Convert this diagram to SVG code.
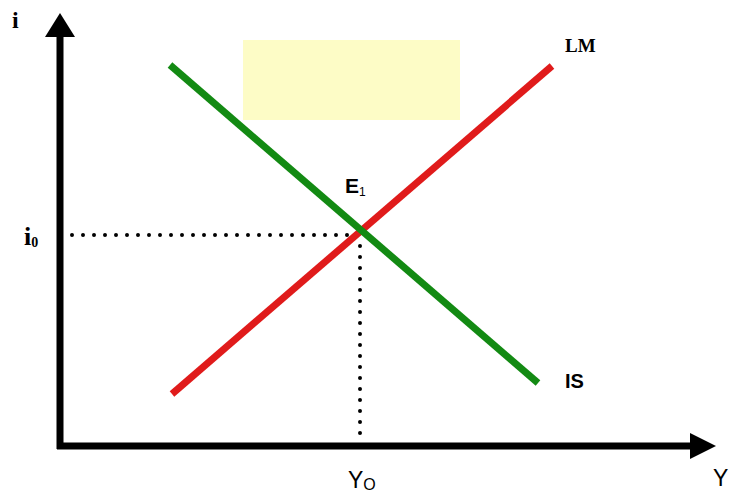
<svg xmlns="http://www.w3.org/2000/svg" width="734" height="501" viewBox="0 0 734 501">
<style>
.axis{stroke:#000;stroke-width:7;fill:none}
.dot{stroke:#000;stroke-width:4;stroke-dasharray:0 11;stroke-linecap:round;fill:none}
.sans{font-family:"Liberation Sans",Arial,sans-serif;fill:#000}
.serif{font-family:"Liberation Serif","Times New Roman",serif;font-weight:bold;fill:#000}
</style>
<rect width="734" height="501" fill="#fff"/>
<rect id="box" x="243" y="40" width="217" height="80" fill="#fdfcc6"/>
<g id="connectors">
<line class="axis" x1="60" y1="449" x2="60" y2="34"/>
<polygon points="60,13 45,37 75,37" fill="#000"/>
<line class="axis" x1="57" y1="446" x2="692" y2="446"/>
<polygon points="716,446 690,433 690,459" fill="#000"/>
<line class="dot" x1="72" y1="235" x2="358" y2="235"/>
<line class="dot" x1="360" y1="246" x2="360" y2="444"/>
<line id="LM" x1="172" y1="394" x2="552" y2="66" stroke="#e01b1b" stroke-width="7"/>
<line id="IS" x1="170" y1="65" x2="538" y2="383" stroke="#138a13" stroke-width="7"/>
</g>
<g id="labels">
<text class="serif" x="12" y="28" font-size="24">i</text>
<text class="serif" x="24" y="245" font-size="26">i<tspan font-size="14" dy="2">0</tspan></text>
<text class="sans" x="345" y="193" font-size="21" font-weight="bold">E<tspan font-size="12" dy="3" font-weight="normal">1</tspan></text>
<text class="serif" x="565" y="52" font-size="19">LM</text>
<text class="sans" x="565" y="388" font-size="20" font-weight="bold">IS</text>
<text class="sans" x="348" y="488" font-size="23">Y<tspan font-size="16" dy="2">O</tspan></text>
<text class="sans" x="713" y="486" font-size="23">Y</text>
</g>
</svg>
